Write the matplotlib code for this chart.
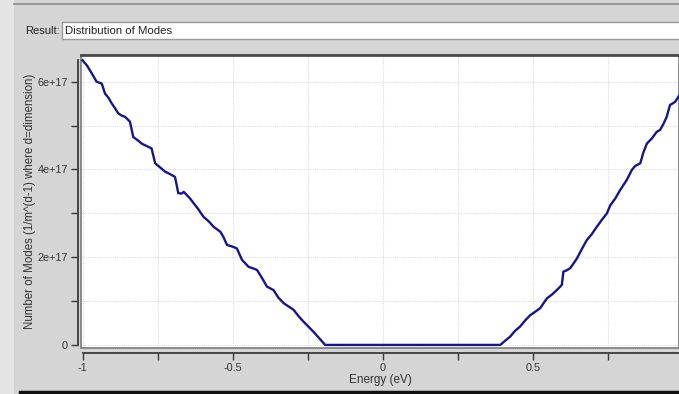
import matplotlib
matplotlib.use("Agg")
import matplotlib.pyplot as plt
from matplotlib.patches import Rectangle
from matplotlib.lines import Line2D
import numpy as np

plt.rcParams['font.family'] = ['Liberation Sans', 'DejaVu Sans']

# Data (energy in eV, modes in units of 1e17)
energy_left = [-1.0, -0.985, -0.969, -0.953, -0.936, -0.925, -0.914, -0.903, -0.892, -0.881,
               -0.870, -0.858, -0.842, -0.831, -0.815, -0.803, -0.770, -0.758, -0.742,
               -0.725, -0.710, -0.692, -0.681, -0.670, -0.663, -0.642,
               -0.630, -0.615, -0.597, -0.580, -0.563, -0.541, -0.530, -0.519, -0.500,
               -0.486, -0.469, -0.447, -0.430, -0.419, -0.400,
               -0.386, -0.364, -0.348, -0.330, -0.297, -0.280, -0.264, -0.231, -0.192]
modes_left = [6.49, 6.37, 6.19, 6.00, 5.96, 5.73, 5.64, 5.51, 5.40, 5.28,
              5.23, 5.20, 5.09, 4.74, 4.66, 4.59, 4.48, 4.14, 4.05,
              3.95, 3.90, 3.83, 3.46, 3.45, 3.49, 3.34,
              3.23, 3.10, 2.92, 2.82, 2.69, 2.58, 2.45, 2.28, 2.24,
              2.20, 1.94, 1.78, 1.74, 1.71, 1.50,
              1.33, 1.25, 1.08, 0.95, 0.80, 0.65, 0.53, 0.30, 0.0]
energy_right = [0.391, 0.408, 0.424, 0.440, 0.457, 0.474, 0.491, 0.508, 0.524, 0.546,
                0.565, 0.585, 0.596, 0.601, 0.612, 0.624, 0.646, 0.662, 0.679, 0.695,
                0.712, 0.730, 0.746, 0.757, 0.774, 0.790, 0.812, 0.829,
                0.840, 0.857, 0.868, 0.879, 0.896, 0.912, 0.923, 0.935, 0.945, 0.956,
                0.973, 0.986]
modes_right = [0.0, 0.10, 0.19, 0.32, 0.42, 0.56, 0.68, 0.76, 0.84, 1.06,
               1.16, 1.29, 1.37, 1.67, 1.70, 1.75, 1.97, 2.18, 2.39, 2.52,
               2.69, 2.86, 3.00, 3.18, 3.34, 3.53, 3.76, 3.99,
               4.08, 4.14, 4.40, 4.59, 4.71, 4.86, 4.90, 5.05, 5.20, 5.47,
               5.54, 5.68]
scale = 1e17

x_ticks = [-1, -0.75, -0.5, -0.25, 0, 0.25, 0.5, 0.75]
x_tick_labels = ["-1", "", "-0.5", "", "0", "", "0.5", ""]
y_ticks = [0, 1e17, 2e17, 3e17, 4e17, 5e17, 6e17]
y_tick_labels = ["0", "", "2e+17", "", "4e+17", "", "6e+17"]

energy = energy_left + energy_right
modes = [m * scale for m in modes_left + modes_right]

W, H = 679, 394
fig = plt.figure(figsize=(W / 100, H / 100), dpi=100)
bg = '#d5d5d5'
fig.patch.set_facecolor(bg)

def px(x0, y0, w, h):
    return (x0 / W, 1 - (y0 + h) / H, w / W, h / H)

# window decorations
l, b, w, h = px(0, 0, 14, H)
fig.add_artist(Rectangle((l, b), w, h, transform=fig.transFigure, facecolor='#e4e4e4', edgecolor='none'))
fig.add_artist(Line2D([14 / W, 1], [1 - 4 / H, 1 - 4 / H], transform=fig.transFigure, color='#8a8a8a', lw=1.2))
l, b, w, h = px(62, 22, 640, 17)
fig.add_artist(Rectangle((l, b), w, h, transform=fig.transFigure, facecolor='white', edgecolor='#9a9a9a', lw=1))
fig.text(25 / W, 1 - 30.5 / H, "Result:", fontsize=8, color='#222222', va='center', ha='left')
fig.text(65 / W, 1 - 30.5 / H, "Distribution of Modes", fontsize=8.2, color='#222222', va='center', ha='left')
fig.add_artist(Line2D([20 / W, 1], [1 - 392 / H, 1 - 392 / H], transform=fig.transFigure, color='#111111', lw=2.5))

# axes
ax = fig.add_axes([81 / W, 1 - 348 / H, (W - 81) / W, (348 - 55) / H])
ax.set_facecolor('white')
ax.plot(energy, modes, color='#16168c', lw=1.7, solid_joinstyle='round')

ax.set_xlim(-1.005, 0.986)
ax.set_ylim(-0.07e17, 6.61e17)

ax.set_xticks(x_ticks)
ax.set_xticklabels(x_tick_labels)
ax.set_yticks(y_ticks)
ax.set_yticklabels(y_tick_labels)
ax.grid(True, color='#dcdcdc', lw=0.8, ls=(0, (1, 1)))
ax.set_axisbelow(True)

ax.spines['right'].set_visible(False)
ax.spines['top'].set_color('#4a4a4a')
ax.spines['top'].set_linewidth(2.0)
ax.spines['left'].set_position(('outward', 2.5))
ax.spines['left'].set_bounds(0, 6.49e17)
ax.spines['left'].set_color('#3a3a3a')
ax.spines['left'].set_linewidth(1.3)
ax.spines['bottom'].set_position(('outward', 3.8))
ax.spines['bottom'].set_bounds(-1, 0.986)
ax.spines['bottom'].set_color('#3a3a3a')
ax.spines['bottom'].set_linewidth(1.3)

ax.add_patch(Rectangle((0, 0), 1, 1, transform=ax.transAxes, fill=False,
                       edgecolor='#7a7a7a', lw=1.2, clip_on=False))

ax.tick_params(axis='both', direction='out', length=5, width=1.0, color='#3a3a3a',
               labelsize=7.8, labelcolor='#333333', pad=2)

ax.set_xlabel("Energy (eV)", fontsize=8.5, color='#333333', labelpad=1)
ax.set_ylabel("Number of Modes (1/m^(d-1) where d=dimension)", fontsize=8.3, color='#333333')
ax.yaxis.set_label_coords((36 - 81) / (W - 81), 0.5)

fig.savefig("out.png", dpi=100, facecolor=bg)
